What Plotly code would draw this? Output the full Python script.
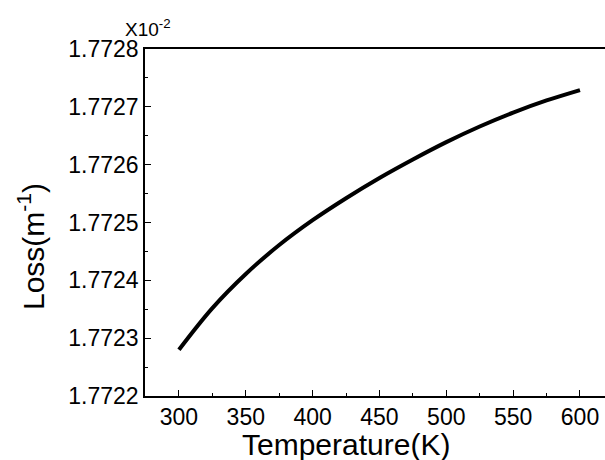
import plotly.graph_objects as go

temperature = [300, 325, 350, 375, 400, 425, 450, 475, 500, 525, 550, 575, 600]
loss = [1.772280, 1.772352, 1.772411, 1.772461, 1.772504, 1.772542, 1.772577,
        1.772609, 1.772639, 1.772666, 1.772690, 1.772711, 1.772729]
x_ticks = [300, 350, 400, 450, 500, 550, 600]
y_ticks = [1.7722, 1.7723, 1.7724, 1.7725, 1.7726, 1.7727, 1.7728]

FONT = "Liberation Sans, Arial, Helvetica, sans-serif"
W, H = 615, 460
L, R, T, B = 145, 0, 49, 64
pw, ph = W - L - R, H - T - B

def px(x):
    return (x - L) / pw

def py(y):
    return (H - B - y) / ph

fig = go.Figure()
fig.add_trace(go.Scatter(x=temperature, y=loss, mode="lines",
                         line=dict(color="black", width=4, shape="spline"),
                         showlegend=False, hoverinfo="skip"))

fig.update_layout(
    width=W, height=H,
    margin=dict(l=L, r=R, t=T, b=B, autoexpand=False),
    paper_bgcolor="white", plot_bgcolor="white",
    font=dict(family=FONT, color="black"),
    xaxis=dict(range=[274.6, 626.2], tickvals=x_ticks, ticks="inside", ticklen=6,
               tickwidth=1, tickcolor="black", showline=True, linecolor="black",
               linewidth=1.5, mirror=True, showgrid=False, zeroline=False,
               automargin=False, tickfont=dict(size=23, family=FONT),
               minor=dict(dtick=25, tick0=275, ticks="inside", ticklen=3,
                          tickcolor="black", showgrid=False)),
    yaxis=dict(range=[1.7722, 1.7728], tickvals=y_ticks, tickformat=".4f",
               ticks="inside", ticklen=6, tickwidth=1, tickcolor="black",
               showline=True, linecolor="black", linewidth=1.5, mirror=False,
               showgrid=False, zeroline=False, automargin=False,
               tickfont=dict(size=23, family=FONT),
               minor=dict(dtick=0.00005, tick0=1.7722, ticks="inside", ticklen=3,
                          tickcolor="black", showgrid=False)),
    annotations=[
        dict(text="Temperature(K)", xref="paper", yref="paper", x=px(346), y=py(444),
             xanchor="center", yanchor="middle", showarrow=False,
             font=dict(size=30, family=FONT)),
        dict(text="Loss(m<sup>-1</sup>)", xref="paper", yref="paper", x=px(31), y=py(247),
             xanchor="center", yanchor="middle", textangle=-90, showarrow=False,
             font=dict(size=30, family=FONT)),
        dict(text="X10<sup>-2</sup>", xref="paper", yref="paper", x=px(123), y=py(28),
             xanchor="left", yanchor="middle", showarrow=False,
             font=dict(size=19, family=FONT)),
    ],
)

fig.write_html("out.html", config={"displayModeBar": False},
               post_script="document.body.style.margin='0';document.body.style.overflow='hidden';")
